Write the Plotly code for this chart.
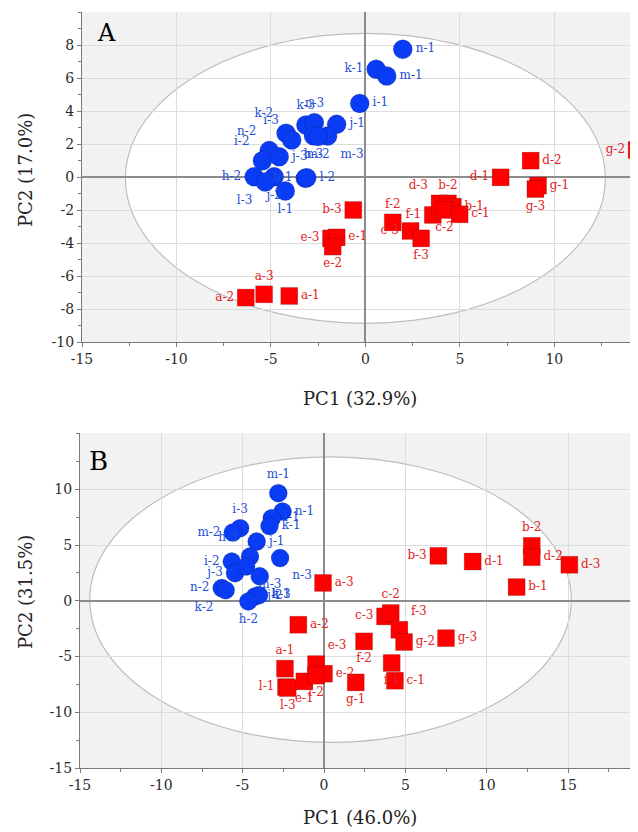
import plotly.graph_objects as go

# ---------------- Panel A data ----------------
a_blue_names = ["n-1", "k-1", "m-1", "i-1", "j-1", "k-3", "n-3", "m-3", "h-3", "m-2",
                "k-2", "i-3", "n-2", "i-2", "j-3", "h-2", "j-2", "l-3", "l-1", "h-1", "l-2"]
a_blue_x = [1.98, 0.57, 1.13, -0.30, -1.52, -3.15, -2.70, -2.00, -2.75, -2.50,
            -4.20, -3.90, -5.09, -5.45, -4.56, -5.89, -4.83, -5.30, -4.24, -3.18, -3.10]
a_blue_y = [7.74, 6.53, 6.12, 4.46, 3.19, 3.15, 3.29, 2.48, 2.50, 2.45,
            2.65, 2.24, 1.60, 0.99, 1.23, 0.02, 0.02, -0.30, -0.85, -0.08, -0.05]
a_blue_pos = ["middle right", "middle left", "middle right", "middle right", "middle right",
              "top center", "top center", "bottom right", "bottom center", "bottom center",
              "top left", "top left", "top left", "top left", "middle right",
              "middle left", "bottom center", "bottom left", "bottom center", "middle left", "middle right"]

a_red_names = ["b-3", "e-3", "e-1", "e-2", "a-3", "a-1", "a-2", "f-2", "c-3", "f-3",
               "f-1", "d-3", "b-2", "b-1", "c-2", "c-1", "d-1", "d-2", "g-1", "g-3", "g-2"]
a_red_x = [-0.64, -1.82, -1.52, -1.73, -5.36, -4.03, -6.33, 1.45, 2.39, 2.95,
           3.57, 3.93, 4.37, 4.63, 4.19, 4.99, 7.16, 8.75, 9.14, 9.00, 14.36]
a_red_y = [-2.00, -3.72, -3.66, -4.22, -7.11, -7.21, -7.31, -2.75, -3.27, -3.72,
           -2.30, -1.60, -1.60, -1.80, -2.00, -2.26, -0.02, 0.99, -0.52, -0.73, 1.64]
a_red_pos = ["middle left", "middle left", "middle right", "bottom center", "top center",
             "middle right", "middle left", "top center", "middle left", "bottom center",
             "middle left", "top left", "top center", "middle right", "bottom center",
             "middle right", "middle left", "middle right", "middle right", "bottom center", "middle left"]

# ---------------- Panel B data ----------------
b_blue_names = ["m-1", "n-1", "i-1", "k-1", "i-3", "m-2", "j-1", "h-3", "i-2", "j-3",
                "m-3", "k-3", "n-3", "n-2", "k-2", "j-2", "h-1", "h-2"]
b_blue_x = [-2.81, -2.55, -3.21, -3.35, -5.16, -5.61, -4.14, -4.55, -5.67, -5.47,
            -4.79, -3.95, -2.70, -6.29, -6.05, -4.24, -4.00, -4.65]
b_blue_y = [9.65, 8.00, 7.41, 6.70, 6.51, 6.12, 5.31, 3.97, 3.52, 2.48,
            3.07, 2.20, 3.83, 1.14, 0.95, 0.39, 0.50, -0.06]
b_blue_pos = ["top center", "middle right", "middle right", "middle right", "top center",
              "middle left", "middle right", "top left", "middle left", "middle left",
              "bottom right", "bottom right", "bottom right", "middle left", "bottom left",
              "middle right", "middle right", "bottom center"]

b_red_names = ["a-3", "a-2", "a-1", "l-1", "l-3", "e-3", "e-2", "e-1", "l-2", "g-1",
               "f-2", "c-3", "c-2", "f-3", "g-2", "g-3", "f-1", "c-1",
               "b-3", "d-1", "b-2", "d-2", "d-3", "b-1"]
b_red_x = [-0.06, -1.58, -2.40, -2.34, -2.23, -0.49, 0.00, -1.21, -0.49, 1.95,
           2.46, 3.75, 4.10, 4.63, 4.92, 7.50, 4.16, 4.36,
           7.03, 9.14, 12.77, 12.77, 15.08, 11.84]
b_red_y = [1.60, -2.15, -6.09, -7.74, -7.83, -5.68, -6.54, -7.23, -6.72, -7.32,
           -3.64, -1.40, -1.10, -2.60, -3.70, -3.35, -5.58, -7.17,
           4.03, 3.52, 4.93, 3.91, 3.23, 1.23]
b_red_pos = ["middle right", "middle right", "top center", "middle left", "bottom center",
             "top right", "middle right", "bottom center", "bottom center", "bottom center",
             "bottom center", "middle left", "top center", "top right", "middle right",
             "middle right", "bottom center", "middle right",
             "middle left", "middle right", "top center", "middle right", "middle right", "middle right"]

BLUE = "#0a3cf5"
BLUE_TXT = "#1f4fd6"
RED = "#ff0000"
RED_TXT = "#e32222"
SERIF = "DejaVu Serif, Liberation Serif, serif"

# page body has an 8px margin; figure is sized to fill the rest of the window
OFF = 8
W, H = 638 - OFF, 832 - OFF


def fx(p):
    return (p - OFF) / W


def fy(p):
    return 1 - (p - OFF) / H


fig = go.Figure()


def add_group(names, xs, ys, pos, color, tcolor, symbol, size, xa, ya):
    fig.add_trace(go.Scatter(
        x=xs, y=ys, text=names, mode="markers+text", textposition=pos,
        marker=dict(symbol=symbol, size=size, color=color,
                    line=dict(color="rgba(0,0,0,0.25)", width=0.6)),
        textfont=dict(family=SERIF, size=12, color=tcolor),
        xaxis=xa, yaxis=ya, cliponaxis=True, showlegend=False, hoverinfo="text"))


add_group(a_red_names, a_red_x, a_red_y, a_red_pos, RED, RED_TXT, "square", 17, "x", "y")
add_group(a_blue_names, a_blue_x, a_blue_y, a_blue_pos, BLUE, BLUE_TXT, "circle", 19, "x", "y")
add_group(b_red_names, b_red_x, b_red_y, b_red_pos, RED, RED_TXT, "square", 17, "x2", "y2")
add_group(b_blue_names, b_blue_x, b_blue_y, b_blue_pos, BLUE, BLUE_TXT, "circle", 18, "x2", "y2")

# Hotelling ellipses
fig.add_shape(type="circle", xref="x", yref="y", x0=-12.7, x1=12.7, y0=-8.87, y1=8.7,
              fillcolor="white", line=dict(color="#bdbdbd", width=1.2), layer="below")
fig.add_shape(type="circle", xref="x2", yref="y2", x0=-14.4, x1=15.2, y0=-12.7, y1=12.9,
              fillcolor="white", line=dict(color="#bdbdbd", width=1.2), layer="below")

axis_common = dict(
    showgrid=True, gridcolor="#dcdcdc", gridwidth=1,
    zeroline=True, zerolinecolor="#8c8c8c", zerolinewidth=1.5,
    showline=True, linecolor="#7a7a7a", linewidth=1.2, mirror=False,
    ticks="outside", ticklen=4, tickcolor="#7a7a7a", automargin=False,
    tickfont=dict(family=SERIF, size=14, color="#2a2a2a"),
)

minor_x = dict(dtick=2.5, ticks="outside", ticklen=3, tickcolor="#7a7a7a", showgrid=False)

fig.update_layout(
    width=W, height=H,
    margin=dict(l=0, r=0, t=0, b=0, autoexpand=False),
    paper_bgcolor="white", plot_bgcolor="#f2f2f2",
    xaxis=dict(domain=[fx(82), 1], anchor="y", range=[-15, 14.43],
               tickvals=[-15, -10, -5, 0, 5, 10], ticktext=["-15", "-10", "-5", "0", "5", "10"],
               minor=minor_x, **axis_common),
    yaxis=dict(domain=[fy(342), fy(12)], anchor="x", range=[-10, 10],
               tickvals=[-10, -8, -6, -4, -2, 0, 2, 4, 6, 8],
               ticktext=["-10", "-8", "-6", "-4", "-2", "0", "2", "4", "6", "8"],
               minor=dict(dtick=1, ticks="outside", ticklen=3, tickcolor="#7a7a7a", showgrid=False),
               **axis_common),
    xaxis2=dict(domain=[fx(80), 1], anchor="y2", range=[-15, 19.3],
                tickvals=[-15, -10, -5, 0, 5, 10, 15], ticktext=["-15", "-10", "-5", "0", "5", "10", "15"],
                minor=minor_x, **axis_common),
    yaxis2=dict(domain=[fy(768), fy(433)], anchor="x2", range=[-15, 15.05],
                tickvals=[-15, -10, -5, 0, 5, 10], ticktext=["-15", "-10", "-5", "0", "5", "10"],
                minor=minor_x, **axis_common),
)

TFONT = dict(family=SERIF, size=18, color="#222")
ann = [
    dict(text="A", x=fx(106), y=fy(33), font=dict(family=SERIF, size=24, color="black")),
    dict(text="B", x=fx(99), y=fy(461), font=dict(family=SERIF, size=26, color="black")),
    dict(text="PC1 (32.9%)", x=fx(360), y=fy(398), font=TFONT),
    dict(text="PC2 (17.0%)", x=fx(25), y=fy(170), font=TFONT, textangle=-90),
    dict(text="PC1 (46.0%)", x=fx(360), y=fy(817), font=TFONT),
    dict(text="PC2 (31.5%)", x=fx(25), y=fy(592), font=TFONT, textangle=-90),
]
for a in ann:
    fig.add_annotation(xref="paper", yref="paper", showarrow=False,
                       xanchor="center", yanchor="middle", **a)

fig.write_html("out.html")
